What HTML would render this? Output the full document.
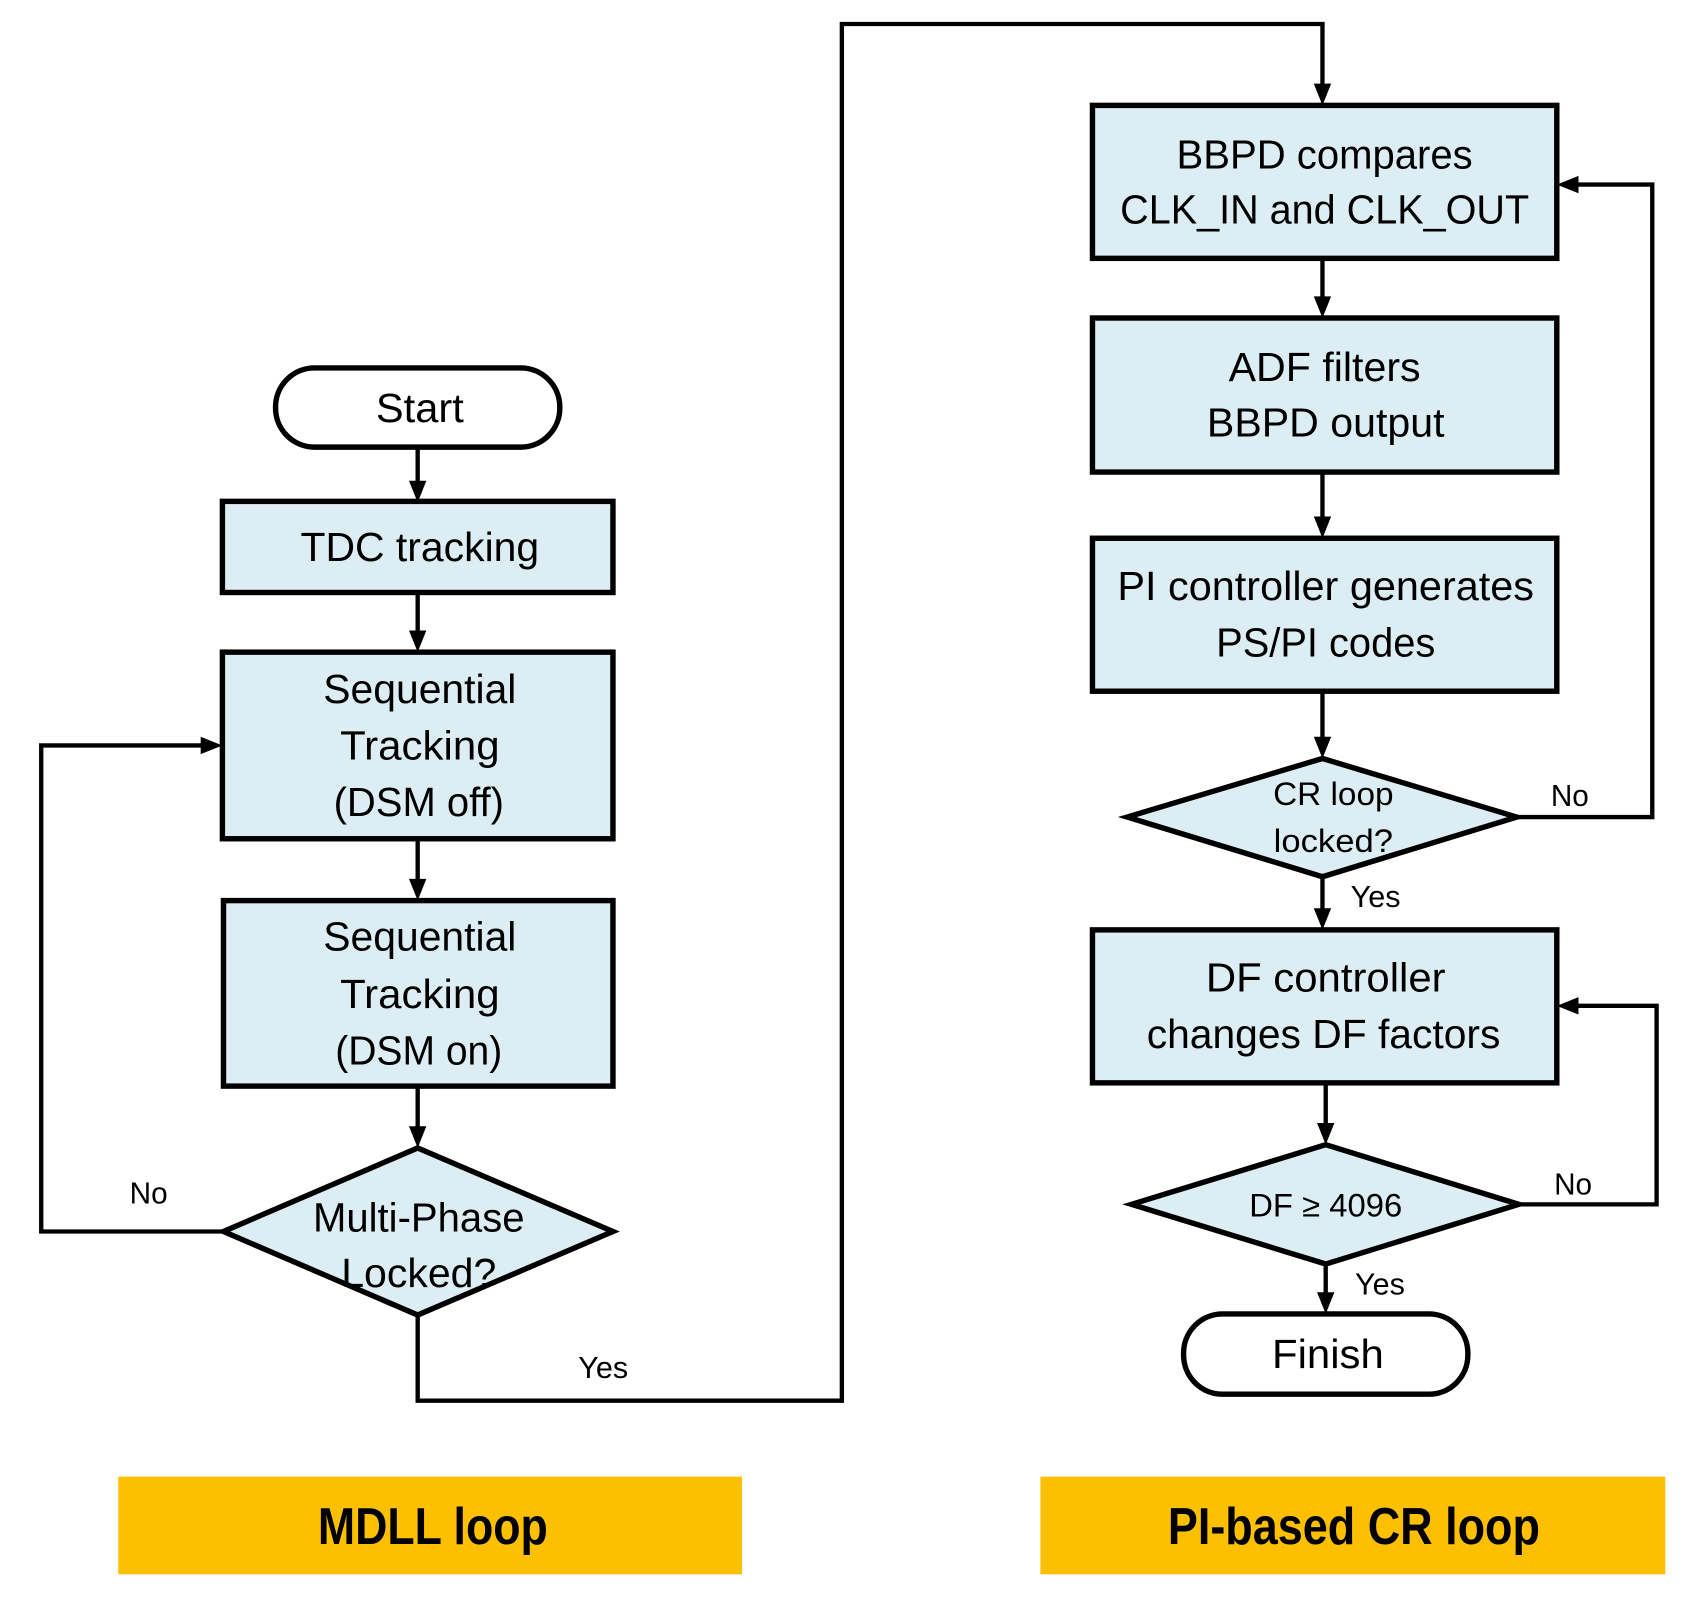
<!DOCTYPE html>
<html><head><meta charset="utf-8"><style>html,body{margin:0;padding:0;background:#fff}svg{display:block}</style></head>
<body>
<svg width="1700" height="1607" viewBox="0 0 1567 1481" xmlns="http://www.w3.org/2000/svg" font-family="'Liberation Sans Narrow','Liberation Sans',sans-serif">
<g fill="none" stroke="#000" stroke-width="4">
<line x1="385" y1="412" x2="385" y2="450"/>
<line x1="385" y1="546" x2="385" y2="589"/>
<line x1="385" y1="773" x2="385" y2="818"/>
<line x1="385" y1="1001" x2="385" y2="1046"/>
<polyline points="206,1135 38,1135 38,687 193,687"/>
<polyline points="385,1212 385,1291 776,1291 776,22 1219,22 1219,84"/>
<line x1="1219" y1="238" x2="1219" y2="281"/>
<line x1="1219" y1="435" x2="1219" y2="484"/>
<line x1="1219" y1="637" x2="1219" y2="687"/>
<line x1="1219" y1="808" x2="1219" y2="845"/>
<polyline points="1398,753 1523,753 1523,170 1447,170"/>
<line x1="1222" y1="998" x2="1222" y2="1043"/>
<polyline points="1400,1110 1527,1110 1527,927 1447,927"/>
<line x1="1222" y1="1165" x2="1222" y2="1199"/>
</g>
<g fill="#000">
<polygon points="377,443 393,443 385,463"/>
<polygon points="377,581 393,581 385,601"/>
<polygon points="377,810 393,810 385,830"/>
<polygon points="377,1038 393,1038 385,1058"/>
<polygon points="185,679 185,695 205,687"/>
<polygon points="1211,77 1227,77 1219,97"/>
<polygon points="1211,273 1227,273 1219,293"/>
<polygon points="1211,476 1227,476 1219,496"/>
<polygon points="1211,679 1227,679 1219,699"/>
<polygon points="1211,837 1227,837 1219,857"/>
<polygon points="1455,162 1455,178 1435,170"/>
<polygon points="1214,1035 1230,1035 1222,1055"/>
<polygon points="1455,919 1455,935 1435,927"/>
<polygon points="1214,1191 1230,1191 1222,1211"/>
</g>
<g fill="#dceef4" stroke="#000" stroke-width="5">
<rect x="254" y="339" width="262" height="73" rx="36" fill="#fff"/>
<rect x="205" y="462" width="360" height="84"/>
<rect x="205" y="601" width="360" height="172"/>
<rect x="206" y="830" width="359" height="171"/>
<polygon points="206,1135 385,1058 565,1135 385,1212"/>
<rect x="1007" y="97" width="428" height="141"/>
<rect x="1007" y="293" width="428" height="142"/>
<rect x="1007" y="496" width="428" height="141"/>
<polygon points="1039,753 1219,699 1398,753 1219,808"/>
<rect x="1007" y="857" width="428" height="141"/>
<polygon points="1043,1110 1222,1055 1400,1110 1222,1165"/>
<rect x="1091" y="1211" width="262" height="74" rx="36" fill="#fff"/>
</g>
<rect x="109" y="1361" width="575" height="90" fill="#fdc000"/>
<rect x="959" y="1361" width="576" height="90" fill="#fdc000"/>
<g fill="#000" font-size="38" text-anchor="middle">
<text x="387" y="389" textLength="81" lengthAdjust="spacingAndGlyphs">Start</text>
<text x="387" y="517" textLength="220" lengthAdjust="spacingAndGlyphs">TDC tracking</text>
<text x="387" y="648" textLength="178" lengthAdjust="spacingAndGlyphs">Sequential</text>
<text x="387" y="700" textLength="147" lengthAdjust="spacingAndGlyphs">Tracking</text>
<text x="386" y="752" textLength="157" lengthAdjust="spacingAndGlyphs">(DSM off)</text>
<text x="387" y="876" textLength="178" lengthAdjust="spacingAndGlyphs">Sequential</text>
<text x="387" y="929" textLength="147" lengthAdjust="spacingAndGlyphs">Tracking</text>
<text x="386" y="981" textLength="154" lengthAdjust="spacingAndGlyphs">(DSM on)</text>
<text x="386" y="1135" textLength="195" lengthAdjust="spacingAndGlyphs">Multi-Phase</text>
<text x="386" y="1186" textLength="143" lengthAdjust="spacingAndGlyphs">Locked?</text>
<text x="1221" y="155" textLength="273" lengthAdjust="spacingAndGlyphs">BBPD compares</text>
<text x="1221" y="206" textLength="377" lengthAdjust="spacingAndGlyphs">CLK_IN and CLK_OUT</text>
<text x="1221" y="351" textLength="177" lengthAdjust="spacingAndGlyphs">ADF filters</text>
<text x="1222" y="402" textLength="219" lengthAdjust="spacingAndGlyphs">BBPD output</text>
<text x="1222" y="553" textLength="384" lengthAdjust="spacingAndGlyphs">PI controller generates</text>
<text x="1222" y="605" textLength="202" lengthAdjust="spacingAndGlyphs">PS/PI codes</text>
<text x="1222" y="914" textLength="221" lengthAdjust="spacingAndGlyphs">DF controller</text>
<text x="1220" y="966" textLength="326" lengthAdjust="spacingAndGlyphs">changes DF factors</text>
<text x="1224" y="1261" textLength="103" lengthAdjust="spacingAndGlyphs">Finish</text>
</g>
<g fill="#000" font-size="30" text-anchor="middle">
<text x="1229" y="742" textLength="111" lengthAdjust="spacingAndGlyphs">CR loop</text>
<text x="1229" y="785" textLength="110" lengthAdjust="spacingAndGlyphs">locked?</text>
<text x="1222" y="1121" textLength="141" lengthAdjust="spacingAndGlyphs">DF ≥ 4096</text>
</g>
<g fill="#000" font-size="28" text-anchor="middle">
<text x="137" y="1109" textLength="35" lengthAdjust="spacingAndGlyphs">No</text>
<text x="556" y="1270" textLength="46" lengthAdjust="spacingAndGlyphs">Yes</text>
<text x="1447" y="743" textLength="35" lengthAdjust="spacingAndGlyphs">No</text>
<text x="1268" y="836" textLength="46" lengthAdjust="spacingAndGlyphs">Yes</text>
<text x="1450" y="1101" textLength="35" lengthAdjust="spacingAndGlyphs">No</text>
<text x="1272" y="1193" textLength="46" lengthAdjust="spacingAndGlyphs">Yes</text>
</g>
<g fill="#000" font-size="48" font-weight="bold" text-anchor="middle">
<text x="399" y="1423" textLength="212" lengthAdjust="spacingAndGlyphs">MDLL loop</text>
<text x="1248" y="1423" textLength="343" lengthAdjust="spacingAndGlyphs">PI-based CR loop</text>
</g>
</svg>
</body></html>
